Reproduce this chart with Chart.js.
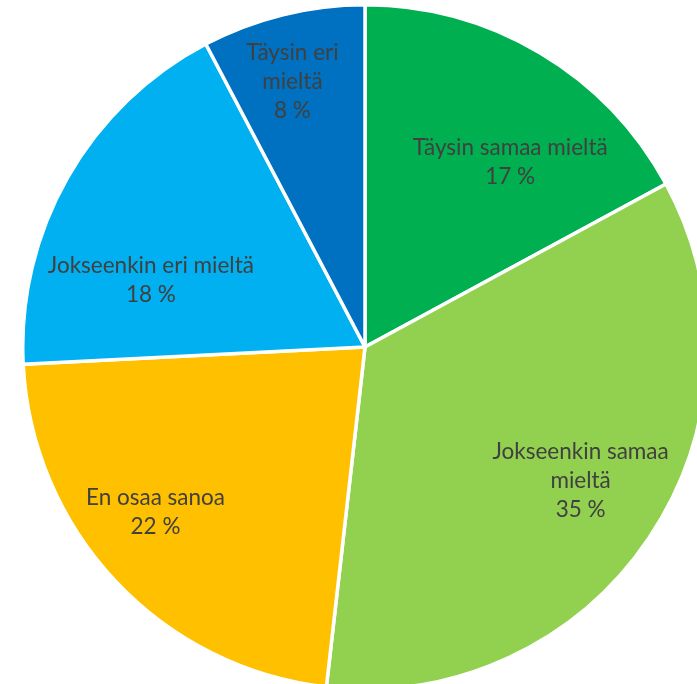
<!DOCTYPE html>
<html><head><meta charset="utf-8">
<script src="https://cdn.jsdelivr.net/npm/chart.js@4/dist/chart.umd.min.js"></script>
<style>
html,body{margin:0;padding:0;background:#fff;overflow:hidden;width:697px;height:684px;}
#wrap{position:absolute;left:21px;top:3px;width:688px;height:688px;}
</style></head><body>
<div id="wrap"><canvas id="c" width="688" height="688"></canvas></div>
<script>
const categories = ["Täysin samaa mieltä", "Jokseenkin samaa mieltä", "En osaa sanoa", "Jokseenkin eri mieltä", "Täysin eri mieltä"];
const values = [17.1, 34.7, 22.4, 18.1, 7.7];
const labelLines = [["Täysin samaa mieltä"], ["Jokseenkin samaa", "mieltä"], ["En osaa sanoa"], ["Jokseenkin eri mieltä"], ["Täysin eri", "mieltä"]];
const colors = ["#00B050", "#92D050", "#FFC000", "#00B0F0", "#0070C0"];
// label placement: [angle from 12 o'clock in degrees, fraction of radius]
const labelPlacement = [[38.2, 0.686], [121.9, 0.742], [231.7, 0.78], [287.2, 0.655], [344.7, 0.804]];

const labelPlugin = {
  id: 'pieLabels',
  afterDatasetsDraw(chart) {
    const ctx = chart.ctx;
    const meta = chart.getDatasetMeta(0);
    ctx.save();
    ctx.font = '22.5px Lato';
    ctx.fillStyle = '#404040';
    ctx.textAlign = 'center';
    ctx.textBaseline = 'middle';
    const lh = 29;
    meta.data.forEach((arc, i) => {
      const [deg, f] = labelPlacement[i];
      const a = deg * Math.PI / 180;
      const r = arc.outerRadius * f;
      const cx = arc.x + Math.sin(a) * r;
      const cy = arc.y - Math.cos(a) * r;
      const lines = labelLines[i].concat([Math.round(values[i]) + ' %']);
      const y0 = cy - (lines.length - 1) * lh / 2;
      lines.forEach((t, k) => ctx.fillText(t, cx, y0 + k * lh));
    });
    ctx.restore();
  }
};

new Chart(document.getElementById('c'), {
  type: 'pie',
  data: {
    labels: categories,
    datasets: [{ data: values, backgroundColor: colors, borderColor: '#ffffff', borderWidth: 3.5 }]
  },
  options: {
    responsive: false,
    animation: false,
    layout: { padding: 0 },
    plugins: { legend: { display: false }, tooltip: { enabled: false } }
  },
  plugins: [labelPlugin]
});
</script>
</body></html>
